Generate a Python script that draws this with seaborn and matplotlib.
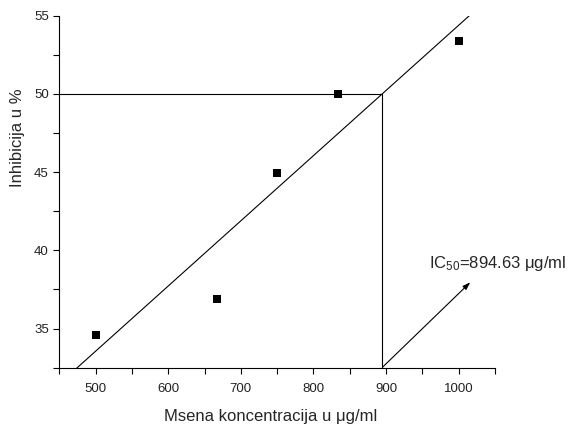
import numpy as np
import pandas as pd
import matplotlib
matplotlib.use("Agg")
import matplotlib.pyplot as plt
import seaborn as sns
from matplotlib.ticker import MultipleLocator

# Data
concentration = [500, 666.67, 750, 833.33, 1000]
inhibition = [34.62, 36.9, 44.94, 50.0, 53.41]
x_ticks = [500, 600, 700, 800, 900, 1000]
y_ticks = [35, 40, 45, 50, 55]
ic50_label = "IC$\\mathregular{_{50}}$=894.63 μg/ml"

sns.set_style("ticks")
plt.rcParams["font.family"] = ["Liberation Sans", "DejaVu Sans"]
plt.rcParams["mathtext.fontset"] = "custom"
plt.rcParams["mathtext.rm"] = "Liberation Sans"

df = pd.DataFrame({"c": concentration, "inh": inhibition})

fig = plt.figure(figsize=(5.69, 4.29), dpi=100)
ax = fig.add_axes([0.1042, 0.1429, 0.7657, 0.8203])

xlim = (450, 1050)
ylim = (32.5, 55)

# linear fit
m, b = np.polyfit(df["c"], df["inh"], 1)
ic50 = (50 - b) / m
fx = np.array(xlim)
fit = pd.DataFrame({"x": fx, "y": m * fx + b})
sns.lineplot(data=fit, x="x", y="y", ax=ax, color="black", lw=0.8)

# guide lines
ax.plot([xlim[0], ic50], [50, 50], color="black", lw=0.8)
ax.plot([ic50, ic50], [ylim[0], 50], color="black", lw=0.8)

sns.scatterplot(data=df, x="c", y="inh", ax=ax, marker="s", s=30,
                color="black", edgecolor="black", linewidth=0, zorder=5)

ax.annotate("", xy=(1016, 37.96), xytext=(ic50 + 1, ylim[0] + 0.05),
            arrowprops=dict(arrowstyle="-|>,head_length=0.45,head_width=0.15",
                            color="black", lw=0.8, shrinkA=0, shrinkB=0))
ax.text(959.5, 38.9, ic50_label, fontsize=12, ha="left", va="baseline")

ax.set_xlim(*xlim)
ax.set_ylim(*ylim)
ax.set_xticks(x_ticks)
ax.set_yticks(y_ticks)
ax.xaxis.set_minor_locator(MultipleLocator(50))
ax.yaxis.set_minor_locator(MultipleLocator(2.5))
ax.tick_params(which="both", direction="out", length=4, width=0.8, labelsize=9.5,
               color="black", labelcolor="#222222")
ax.tick_params(axis="x", which="major", pad=7)
for s in ["left", "bottom"]:
    ax.spines[s].set_linewidth(0.8)
    ax.spines[s].set_color("black")
sns.despine(ax=ax)

ax.set_xlabel("Msena koncentracija u μg/ml", fontsize=12, labelpad=9)
ax.set_ylabel("Inhibicija u %", fontsize=12)
ax.xaxis.set_label_coords(0.485, -0.118)
ax.yaxis.set_label_coords(-0.0787, 0.654)

fig.savefig("out.png", dpi=100)
